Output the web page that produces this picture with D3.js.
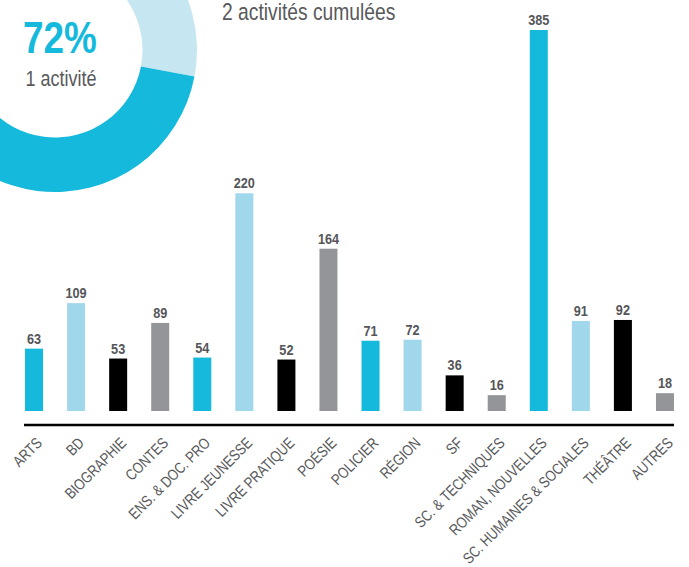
<!DOCTYPE html>
<html>
<head>
<meta charset="utf-8">
<script src="https://cdn.jsdelivr.net/npm/d3@7"></script>
<style>
  body { margin: 0; background: #fff; }
  svg { display: block; }
  text { font-family: "Liberation Sans", Arial, sans-serif; }
</style>
</head>
<body>
<script>
// genres, number of libraries
var categories = ["ARTS", "BD", "BIOGRAPHIE", "CONTES", "ENS. & DOC. PRO", "LIVRE JEUNESSE",
    "LIVRE PRATIQUE", "POÉSIE", "POLICIER", "RÉGION", "SF", "SC. & TECHNIQUES",
    "ROMAN, NOUVELLES", "SC. HUMAINES & SOCIALES", "THÉÂTRE", "AUTRES"];
var values = [63, 109, 53, 89, 54, 220, 52, 164, 71, 72, 36, 16, 385, 91, 92, 18];
var palette = ["#14b9db", "#a0d7eb", "#000000", "#939598"];

// donut : 1 activité / 2 activités cumulées
var shareLabels = ["2 activités cumulées", "1 activité"];
var shares = [28, 72];
var shareColors = ["#c6e6f1", "#14b9db"];

var width = 689,
    height = 567,
    narrow = 0.82; // no Arial Narrow here, squeeze Liberation Sans instead

var svg = d3.select("body").append("svg")
    .attr("width", width)
    .attr("height", height);

function squeeze(px, py) {
    return "translate(" + px + "," + py + ") scale(" + narrow + ",1)";
}

// donut, cut by the page corner
var pie = d3.pie().sort(null).value(function (d) { return d; });
var arc = d3.arc().innerRadius(87.5).outerRadius(142);

svg.append("g")
    .attr("transform", "translate(55,50)")
    .selectAll("path")
    .data(pie(shares))
    .enter().append("path")
    .attr("d", arc)
    .attr("fill", function (d, i) { return shareColors[i]; });

svg.append("text")
    .attr("transform", squeeze(60, 53))
    .attr("text-anchor", "middle")
    .attr("font-size", 45)
    .attr("font-weight", "bold")
    .attr("fill", "#14b9db")
    .text(shares[1] + "%");

svg.append("text")
    .attr("transform", squeeze(61, 86))
    .attr("text-anchor", "middle")
    .attr("font-size", 22)
    .attr("fill", "#58595b")
    .text(shareLabels[1]);

svg.append("text")
    .attr("transform", squeeze(222, 19.5))
    .attr("font-size", 23.5)
    .attr("fill", "#58595b")
    .text(shareLabels[0]);

// bars
var x = d3.scaleBand()
    .domain(categories)
    .range([13, 686])
    .paddingInner(0.572)
    .paddingOuter(0.286);

var y = d3.scaleLinear()
    .domain([0, 385])
    .range([411, 30]);

var color = d3.scaleOrdinal()
    .domain(d3.range(categories.length))
    .range(d3.range(categories.length).map(function (i) { return palette[i % 4]; }));

var bars = svg.append("g").selectAll(".bar")
    .data(values)
    .enter();

bars.append("rect")
    .attr("class", "bar")
    .attr("x", function (d, i) { return x(categories[i]); })
    .attr("width", x.bandwidth())
    .attr("y", function (d) { return y(d); })
    .attr("height", function (d) { return y(0) - y(d); })
    .attr("fill", function (d, i) { return color(i); });

bars.append("text")
    .attr("transform", function (d, i) {
        return squeeze(x(categories[i]) + x.bandwidth() / 2, y(d) - 5);
    })
    .attr("text-anchor", "middle")
    .attr("font-size", 15.5)
    .attr("font-weight", "bold")
    .attr("fill", "#555659")
    .text(function (d) { return d; });

// axis line + rotated labels
svg.append("line")
    .attr("x1", x(categories[0]) - 1)
    .attr("x2", x(categories[categories.length - 1]) + x.bandwidth())
    .attr("y1", 425).attr("y2", 425)
    .attr("stroke", "#000")
    .attr("stroke-width", 2.5);

var axis = svg.append("g")
    .attr("transform", "translate(0,425)")
    .call(d3.axisBottom(x).tickSize(0))
    .attr("font-family", null)
    .attr("font-size", null);

axis.select(".domain").remove();
axis.selectAll("text")
    .attr("x", 0).attr("y", 0).attr("dy", 0)
    .attr("text-anchor", "end")
    .attr("transform", "translate(9,19) rotate(-45) scale(" + narrow + ",1)")
    .attr("font-size", 15.5)
    .attr("fill", "#58595b");
</script>
</body>
</html>
